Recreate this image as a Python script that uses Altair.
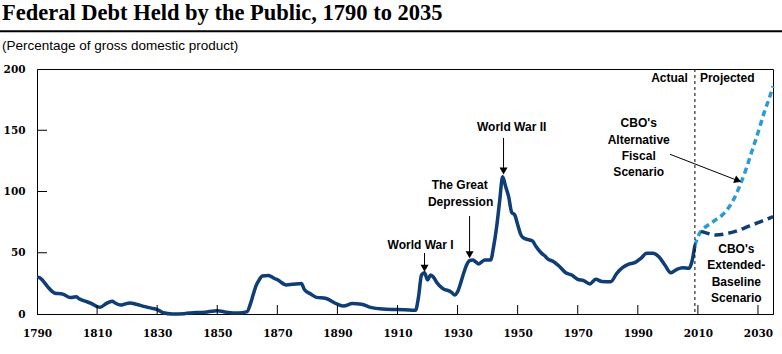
import altair as alt
import pandas as pd

# ---------------- data ----------------
hist_years = [1790, 1791, 1792, 1793, 1794, 1795, 1796, 1798, 1799, 1800, 1801, 1803, 1804, 1806,
              1808, 1810, 1811, 1813, 1815, 1816, 1818, 1819, 1821, 1823, 1826, 1828, 1830, 1832,
              1835, 1839, 1843, 1846, 1849, 1850, 1853, 1857, 1860, 1861, 1862, 1863, 1864, 1865,
              1867, 1868, 1869, 1870, 1873, 1875, 1878, 1879, 1881, 1883, 1886, 1890, 1892, 1895,
              1898, 1901, 1905, 1910, 1914, 1916, 1917, 1918, 1919, 1920, 1921, 1922, 1923, 1925,
              1928, 1929, 1930, 1931, 1932, 1933, 1934, 1935, 1936, 1937, 1938, 1939, 1941, 1942,
              1943, 1944, 1945, 1946, 1947, 1948, 1949, 1950, 1951, 1952, 1954, 1955, 1956, 1958,
              1959, 1960, 1962, 1964, 1966, 1968, 1970, 1972, 1974, 1976, 1978, 1981, 1983, 1985,
              1987, 1989, 1991, 1993, 1995, 1997, 1999, 2001, 2003, 2005, 2007, 2008, 2009]
hist_debt = [30, 29.5, 27, 24, 21, 18.5, 17, 16.5, 15.8, 14.5, 13.5, 14, 12.5, 10.5,
             8.7, 6, 5.5, 8.5, 10.5, 9, 7.3, 8, 9, 8, 6, 4.8, 3.6, 1,
             0, 0.3, 1.2, 1.5, 2.5, 2.6, 1.5, 0.8, 2, 8, 16, 23.5, 28, 31,
             31.5, 30.5, 29, 28, 23.7, 24.2, 25, 20, 16.5, 13.6, 12.8, 8, 6.5, 8.5,
             8, 5.4, 4, 3.6, 3.2, 3, 14, 31.8, 33.7, 27.8, 31.8, 30, 26, 21,
             17.7, 15.5, 18.2, 25, 33, 40, 43.5, 44, 42.7, 40.8, 42.5, 44, 44, 55,
             71, 92, 112, 104, 95.8, 83, 81, 73, 65, 62, 60.4, 59.5, 55.5, 49.5,
             47.5, 45, 42.7, 38.6, 33.7, 31.8, 28.3, 27.2, 24.5, 28.3, 26.6, 26.4, 33.2, 38,
             40.8, 41.9, 45.5, 49.5, 49.5, 46.8, 40, 33.7, 36.5, 37.8, 37.3, 42.7, 56]

alt_years = [2009, 2010, 2011, 2012, 2014, 2016, 2018, 2020, 2022, 2024, 2026, 2028, 2030, 2032, 2034, 2035]
alt_debt = [56, 63, 67.5, 70, 73.5, 77, 80.5, 86, 94, 105, 118, 133, 148, 164, 178, 186]

base_years = [2011, 2013, 2016, 2019, 2021, 2024, 2027, 2030, 2033, 2035]
base_debt = [67.5, 66, 64.5, 65.3, 66.4, 68.8, 71.7, 74.5, 77.5, 79.5]

x_tick_labels = [1790, 1810, 1830, 1850, 1870, 1890, 1910, 1930, 1950, 1970, 1990, 2010, 2030]
x_inner_ticks = [1810, 1830, 1850, 1870, 1890, 1910, 1930, 1950, 1970, 1990, 2010, 2030]
y_tick_labels = [0, 50, 100, 150, 200]
y_inner_ticks = [50, 100, 150]

split_year = [2009]

title_text = "Federal Debt Held by the Public, 1790 to 2035"
subtitle_text = "(Percentage of gross domestic product)"

# annotation texts (one row per line)
note_text = ["World War I", "The Great", "Depression", "World War II",
             "CBO's", "Alternative", "Fiscal", "Scenario",
             "CBO's", "Extended-", "Baseline", "Scenario"]
note_year = [1917.7, 1930.7, 1931, 1948,
             1990.3, 1990.3, 1990.3, 1990.3,
             2022.8, 2022.8, 2022.8, 2022.8]
note_val = [56.3, 105.3, 91.7, 152.6,
            156.2, 142, 129.2, 116.2,
            53.1, 40, 26.4, 13.3]

# vertical event arrows
arrow_year = [1919, 1934, 1945.3]
arrow_top = [49.8, 80, 143.7]
arrow_tip = [34.5, 45.5, 114]

# diagonal arrow to alternative scenario
diag_start = (2000.7, 130.4)
diag_tip = (2024.3, 108)

# ---------------- styles ----------------
NAVY = "#0f3d76"
LIGHT = "#2b9bd5"
AXIS_FONT = "DejaVu Serif"
NOTE_FONT = "Liberation Sans"

x_scale = alt.Scale(domain=[1790, 2035], nice=False, zero=False)
y_scale = alt.Scale(domain=[0, 200], nice=False, zero=True)

x_enc = alt.X("year:Q", scale=x_scale, title=None,
              axis=alt.Axis(values=x_tick_labels, format="d", tickSize=0, labelPadding=14,
                            grid=False, labelFont=AXIS_FONT, labelFontWeight="bold",
                            labelFontSize=10.5, labelColor="black", domainColor="black",
                            labelFlush=False, labelOverlap=False))
y_enc = alt.Y("debt:Q", scale=y_scale, title=None,
              axis=alt.Axis(values=y_tick_labels, tickSize=0, labelPadding=12, grid=False,
                            labelFont=AXIS_FONT, labelFontWeight="bold", labelFontSize=10.5,
                            labelColor="black", domainColor="black", labelFlush=False))

hist_df = pd.DataFrame({"year": hist_years, "debt": hist_debt})
alt_df = pd.DataFrame({"year": alt_years, "debt": alt_debt})
base_df = pd.DataFrame({"year": base_years, "debt": base_debt})

hist = alt.Chart(hist_df).mark_line(color=NAVY, strokeWidth=3.5, interpolate="monotone",
                                    strokeJoin="round").encode(x=x_enc, y=y_enc)
alt_line = alt.Chart(alt_df).mark_line(color=LIGHT, strokeWidth=3.5, interpolate="monotone",
                                       strokeDash=[6, 4]).encode(x=x_enc, y=y_enc)
base_line = alt.Chart(base_df).mark_line(color=NAVY, strokeWidth=3.5, interpolate="monotone",
                                         strokeDash=[9, 5]).encode(x=x_enc, y=y_enc)

split = alt.Chart(pd.DataFrame({"year": split_year})).mark_rule(
    color="black", strokeWidth=1, strokeDash=[3, 3]).encode(x=x_enc)

xt = alt.Chart(pd.DataFrame({"year": x_inner_ticks})).mark_rule(color="black", strokeWidth=1).encode(
    x=x_enc, y=alt.value(245), y2=alt.value(236))
yt = alt.Chart(pd.DataFrame({"debt": y_inner_ticks})).mark_rule(color="black", strokeWidth=1).encode(
    y=y_enc, x=alt.value(0), x2=alt.value(10))

notes = alt.Chart(pd.DataFrame({"year": note_year, "debt": note_val, "t": note_text})).mark_text(
    font=NOTE_FONT, fontWeight="bold", fontSize=12, color="black", align="center",
    baseline="middle").encode(x=x_enc, y=y_enc, text="t:N")

arrows_df = pd.DataFrame({"year": arrow_year, "debt": arrow_top,
                          "head": [v + 2.8 for v in arrow_tip]})
arrow_shafts = alt.Chart(arrows_df).mark_rule(color="black", strokeWidth=1).encode(
    x=x_enc, y=y_enc, y2="head:Q")
arrow_heads = alt.Chart(arrows_df).mark_point(shape="triangle-down", filled=True, size=64,
                                              color="black", opacity=1).encode(
    x=x_enc, y=alt.Y("head:Q", scale=y_scale))

diag_df = pd.DataFrame({"year": [diag_start[0]], "debt": [diag_start[1]],
                        "year2": [diag_tip[0] - 1.0], "debt2": [diag_tip[1] + 0.9]})
diag_line = alt.Chart(diag_df).mark_rule(color="black", strokeWidth=1).encode(
    x=x_enc, y=y_enc, x2="year2:Q", y2="debt2:Q")
diag_head = alt.Chart(diag_df).mark_point(shape="triangle-right", filled=True, size=64,
                                          color="black", opacity=1, angle=21).encode(
    x=alt.X("year2:Q", scale=x_scale), y=alt.Y("debt2:Q", scale=y_scale))

period_df = pd.DataFrame({"year": [2009, 2009], "debt": [192.7, 192.7],
                          "t": ["Actual", "Projected"]})
actual_lbl = alt.Chart(period_df.iloc[[0]]).mark_text(
    font=NOTE_FONT, fontWeight="bold", fontSize=12, align="right", baseline="middle", dx=-7,
    color="black").encode(x=x_enc, y=y_enc, text="t:N")
proj_lbl = alt.Chart(period_df.iloc[[1]]).mark_text(
    font=NOTE_FONT, fontWeight="bold", fontSize=12, align="left", baseline="middle", dx=5,
    color="black").encode(x=x_enc, y=y_enc, text="t:N")

title = alt.Chart(pd.DataFrame({"t": [title_text]})).mark_text(
    font="Liberation Serif", fontWeight="bold", fontSize=22.5, align="left",
    baseline="alphabetic", color="black").encode(x=alt.value(-35), y=alt.value(-49), text="t:N")
subtitle = alt.Chart(pd.DataFrame({"t": [subtitle_text]})).mark_text(
    font="Liberation Sans", fontSize=13.5, align="left", baseline="middle",
    color="black").encode(x=alt.value(-35), y=alt.value(-23), text="t:N")
sep = alt.Chart(pd.DataFrame({"t": [title_text]})).mark_rule(color="black", strokeWidth=2).encode(
    x=alt.value(-37), x2=alt.value(745), y=alt.value(-37.7))

chart = alt.layer(
    hist, alt_line, base_line, split, xt, yt, arrow_shafts, arrow_heads, diag_line, diag_head,
    notes, actual_lbl, proj_lbl, title, subtitle, sep
).properties(
    width=736, height=245,
    padding={"left": 37, "top": 69, "right": 9, "bottom": 40},
    autosize=alt.AutoSizeParams(type="none"),
    background="white",
).configure_view(stroke="black", strokeWidth=1)

chart.save("out.html", embed_options={"renderer": "svg", "actions": False})
